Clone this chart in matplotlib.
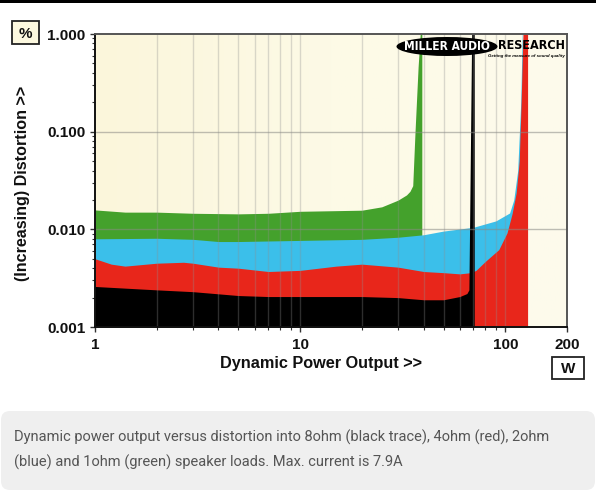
import numpy as np
import matplotlib
matplotlib.use("Agg")
import matplotlib.pyplot as plt
from matplotlib.patches import Ellipse, Rectangle, FancyBboxPatch
from matplotlib.colors import LinearSegmentedColormap
from matplotlib.ticker import FixedLocator, NullFormatter
from matplotlib.font_manager import FontProperties

# ---- data (power W, distortion %) ----
green_x = [1, 1.4, 2, 3, 5, 7, 10, 20, 25, 30, 33, 34.3, 35.4, 36.3, 37.6, 38.5, 39.2]
green_y = [0.0158, 0.0150, 0.0150, 0.0146, 0.0144, 0.0146, 0.0153, 0.0157, 0.0170, 0.0199,
           0.0225, 0.0245, 0.028, 0.097, 0.46, 1.0, 1.0]

blue_x = [1, 2, 3, 4, 5, 10, 20, 30, 40, 50, 70, 90, 105, 110, 115, 119, 121, 121.5]
blue_y = [0.0080, 0.0081, 0.0079, 0.0075, 0.0075, 0.0077, 0.0079, 0.0083, 0.0088, 0.0096,
          0.0105, 0.0122, 0.0147, 0.020, 0.040, 0.20, 1.0, 1.0]

red_x = [1, 1.2, 1.4, 2, 2.7, 3, 4, 5, 7, 10, 15, 20, 30, 40, 50, 60, 68, 72, 80, 93,
         102, 108, 113, 117, 119.5, 122, 128.5]
red_y = [0.0050, 0.0044, 0.0042, 0.0045, 0.0046, 0.0045, 0.0041, 0.0040, 0.0037, 0.0038,
         0.0042, 0.0044, 0.0041, 0.0037, 0.0036, 0.0035, 0.0036, 0.0038, 0.0047, 0.0062,
         0.0092, 0.0145, 0.0235, 0.050, 0.20, 1.0, 1.0]

black_x = [1, 1.4, 2, 3, 5, 7, 10, 20, 30, 40, 50, 60, 65, 66.5, 68.6, 70.6]
black_y = [0.0026, 0.0025, 0.0024, 0.0023, 0.0021, 0.00205, 0.00205, 0.00205, 0.0020,
           0.0019, 0.0019, 0.00205, 0.0022, 0.0024, 1.0, 1.0]

y_ticks = [0.001, 0.01, 0.1, 1.0]
y_labels = ["0.001", "0.010", "0.100", "1.000"]
x_ticks = [1, 10, 100, 200]
x_labels = ["1", "10", "100", "200"]

caption_lines = ["Dynamic power output versus distortion into 8ohm (black trace), 4ohm (red), 2ohm",
                 "(blue) and 1ohm (green) speaker loads. Max. current is 7.9A"]

W, H = 596, 490
fig = plt.figure(figsize=(W / 100, H / 100), dpi=100)
fig.patch.set_facecolor("white")

L, R, T, B = 95, 567, 34, 327
ax = fig.add_axes([L / W, 1 - B / H, (R - L) / W, (B - T) / H])
ax.set_xscale("log")
ax.set_yscale("log")
ax.set_xlim(1, 200)
ax.set_ylim(0.001, 1.0)

# background gradient
cmap = LinearSegmentedColormap.from_list("bg", ["#fbf6db", "#fdfae6", "#fdfbec"])
grad = np.linspace(0, 1, 256).reshape(1, -1)
ax.imshow(grad, cmap=cmap, aspect="auto", extent=[0, 1, 0, 1],
          transform=ax.transAxes, zorder=0)

bot = 0.001
ax.fill_between(green_x, green_y, bot, color="#44a12c", lw=0, zorder=1)
ax.fill_between(blue_x, blue_y, bot, color="#3bbfea", lw=0, zorder=1.1)
ax.fill_between(red_x, red_y, bot, color="#e8261b", lw=0, zorder=1.2)
ax.fill_between(black_x, black_y, bot, color="#000000", lw=0, zorder=1.3)

# grid
minor_x = [v * d for d in (1, 10) for v in range(2, 10)]
for xv in minor_x + [10, 100]:
    ax.axvline(xv, color="#8f8f8f", alpha=0.32, lw=1.0, zorder=2)
for yv in (0.01, 0.1):
    ax.axhline(yv, color="#8a8a85", alpha=0.55, lw=1.0, zorder=2)

# ticks
ax.xaxis.set_major_locator(FixedLocator(x_ticks))
ax.set_xticklabels(x_labels)
ax.xaxis.set_minor_locator(FixedLocator(minor_x))
ax.xaxis.set_minor_formatter(NullFormatter())
ax.yaxis.set_major_locator(FixedLocator(y_ticks))
ax.set_yticklabels(y_labels)
ax.yaxis.set_minor_locator(FixedLocator([v * d for d in (0.001, 0.01, 0.1) for v in range(2, 10)]))
ax.yaxis.set_minor_formatter(NullFormatter())
tickfont = dict(family="Liberation Sans", weight="bold", size=11)
for lab in ax.get_xticklabels() + ax.get_yticklabels():
    lab.set_fontproperties(FontProperties(**tickfont))
ax.tick_params(axis="both", which="major", direction="out", length=3.6, width=1.0,
               color="#333333", pad=3.2, labelcolor="#111111")
ax.tick_params(axis="both", which="minor", direction="out", length=2.2, width=0.8,
               color="#333333")
ax.tick_params(axis="x", which="major", pad=4.5)

for s in ("left", "bottom"):
    ax.spines[s].set_color("#111111")
    ax.spines[s].set_linewidth(1.4)
for s in ("top", "right"):
    ax.spines[s].set_color("#555555")
    ax.spines[s].set_linewidth(1.4)
for s in ax.spines.values():
    s.set_zorder(3)

# overlay in pixel coordinates
ov = fig.add_axes([0, 0, 1, 1], zorder=5)
ov.set_xlim(0, W)
ov.set_ylim(H, 0)
ov.axis("off")

ov.add_patch(Rectangle((0, 0), W, 3, color="black", lw=0))

# % box
ov.add_patch(Rectangle((12, 21.5), 27, 23, facecolor="#fcf8df", edgecolor="#222222", lw=1.3))
ov.text(25.5, 33.5, "%", ha="center", va="center", family="Liberation Sans",
        weight="bold", size=11, color="#111111")
# W box
ov.add_patch(Rectangle((552, 357), 32, 22, facecolor="white", edgecolor="#222222", lw=1.3))
ov.text(568, 368.5, "W", ha="center", va="center", family="Liberation Sans",
        weight="bold", size=11, color="#111111")

# axis labels
ov.text(321, 363, "Dynamic Power Output >>", ha="center", va="center",
        family="Liberation Sans", weight="bold", size=11.7, color="#111111")
ov.text(23, 183, "(Increasing) Distortion >>", ha="center", va="center", rotation=90,
        family="Liberation Sans", weight="bold", size=11.6, color="#111111")

# logo
logo_font = FontProperties(family="DejaVu Sans", weight="bold", stretch="condensed", size=8.6)
ov.add_patch(Ellipse((447, 46.5), 101, 19, color="black", lw=0))
ov.text(447, 46.8, "MILLER AUDIO", ha="center", va="center",
        fontproperties=logo_font, color="white")
ov.text(531.5, 45.8, "RESEARCH", ha="center", va="center",
        fontproperties=FontProperties(family="DejaVu Sans", weight="bold",
                                      stretch="condensed", size=9.0), color="black")
ov.text(526, 56.5, "Getting the measure of sound quality", ha="center", va="center",
        family="Liberation Sans", weight="bold", style="italic", size=3.2, color="black")

# caption box
ov.add_patch(FancyBboxPatch((1, 411), W - 2, 79, boxstyle="round,pad=0,rounding_size=9",
                            facecolor="#efefef", edgecolor="none"))
for i, line in enumerate(caption_lines):
    ov.text(14.5, 437 + 25 * i, line, ha="left", va="center", family="Roboto",
            weight="normal", size=10.5, color="#555555")

fig.savefig("out.png", dpi=100, facecolor="white")
